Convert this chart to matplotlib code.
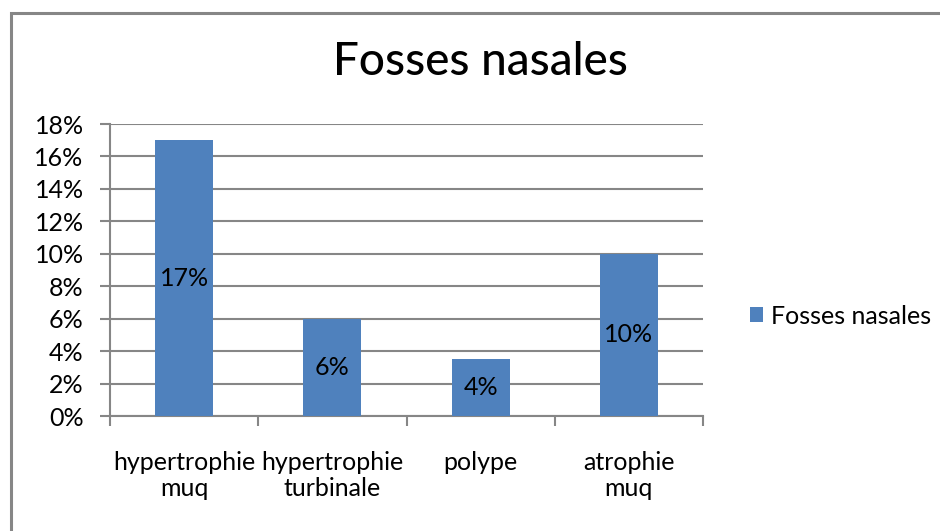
import matplotlib.pyplot as plt
import numpy as np
from matplotlib.patches import Rectangle

# donnees
categories = ['hypertrophie\nmuq', 'hypertrophie\nturbinale', 'polype', 'atrophie\nmuq']
values = [17, 6, 3.5, 10]
labels = ['17%', '6%', '4%', '10%']
yticks = [0, 2, 4, 6, 8, 10, 12, 14, 16, 18]

plt.rcParams['font.family'] = ['Lato', 'DejaVu Sans']
grey = '#868686'
color = '#4F81BD'

fig = plt.figure(figsize=(9.4, 5.31), dpi=100)
# cadre du graphique
fig.patches.append(Rectangle((11 / 940, -0.05), 1.0, 1 - 13 / 531 + 0.05,
                             transform=fig.transFigure, fill=False,
                             edgecolor=grey, linewidth=2.2))

ax = fig.add_axes([110 / 940, 1 - 416 / 531, (703 - 110) / 940, (416 - 124) / 531])
x = np.arange(len(categories))
bars = ax.bar(x, values, width=0.39, color=color, zorder=3, label='Fosses nasales')
for b, lab in zip(bars, labels):
    ax.text(b.get_x() + b.get_width() / 2, b.get_height() / 2, lab,
            ha='center', va='center', fontsize=18, zorder=4)

ax.set_xlim(-0.5, len(categories) - 0.5)
ax.set_ylim(0, 18)
ax.set_yticks(yticks)
ax.set_yticklabels([f'{t}%' for t in yticks], fontsize=18)
ax.yaxis.grid(True, color=grey, linewidth=1.5, zorder=0)
ax.set_xticks(np.arange(-0.5, len(categories), 1.0))
ax.set_xticklabels([])
ax.set_xticks(x, minor=True)
ax.set_xticklabels(categories, minor=True, fontsize=18, linespacing=1.15)
ax.tick_params(axis='x', which='minor', length=0, pad=25)
ax.tick_params(axis='x', which='major', length=7, width=1.5, color=grey)
ax.tick_params(axis='y', length=7, width=1.5, color=grey, pad=12)
for s in ['top', 'right']:
    ax.spines[s].set_visible(False)
for s in ['left', 'bottom']:
    ax.spines[s].set_color(grey)
    ax.spines[s].set_linewidth(1.5)

fig.text(480 / 940, 1 - 62 / 531, 'Fosses nasales', ha='center', va='center',
         fontsize=33, fontweight='medium')
fig.legend(loc='center left', bbox_to_anchor=(727 / 940, 1 - 316 / 531), frameon=False,
           fontsize=18, handlelength=0.55, handleheight=0.55, handletextpad=0.3)

plt.savefig('out.png', dpi=100)
